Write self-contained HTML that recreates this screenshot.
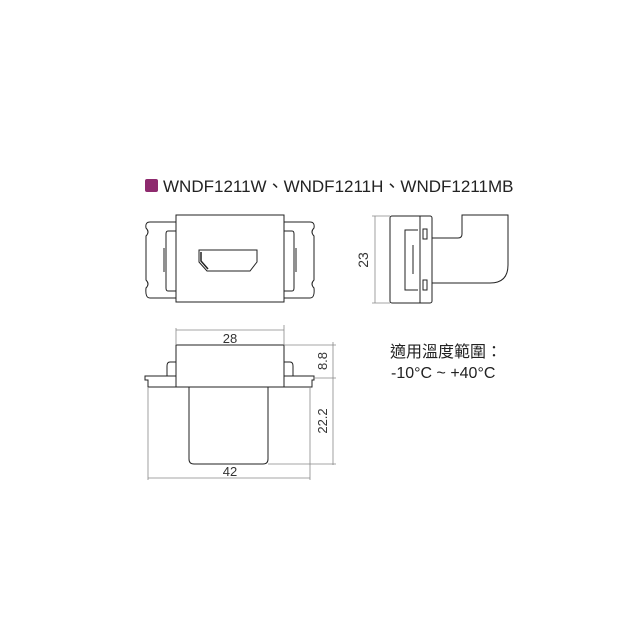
<!DOCTYPE html>
<html><head><style>
html,body{margin:0;padding:0;background:#fff;}
svg{display:block;}
text{font-family:"Liberation Sans","Noto Sans CJK TC",sans-serif;}
</style></head><body>
<svg width="640" height="640" viewBox="0 0 640 640" xmlns="http://www.w3.org/2000/svg">
<rect x="145" y="179" width="13" height="13" rx="2" fill="#8e2a6e"/>
<text x="163" y="192" font-size="17" fill="#222" font-family="'Noto Sans CJK TC',sans-serif">WNDF1211W、WNDF1211H、WNDF1211MB</text>

<g fill="none" stroke="#222" stroke-width="1">
<path d="M176 222 L150 222 Q145 222 146 228 Q150 232 146 236 L146 280 Q150 284 146 288 Q145 298 150 298 L176 298"/>
<path d="M284 222 L310 222 Q315 222 314 228 Q310 232 314 236 L314 280 Q310 284 314 288 Q315 298 310 298 L284 298"/>
<path d="M176 231 L168 231 Q166 231 166 234 L166 288 Q166 291 168 291 L176 291"/>
<path d="M284 231 L292 231 Q294 231 294 234 L294 288 Q294 291 292 291 L284 291"/>
<line x1="164" y1="248" x2="164" y2="272"/>
<line x1="296" y1="248" x2="296" y2="272"/>
<rect x="176" y="215" width="108" height="87" fill="#fff"/>
<path d="M199 250 L257 250 L257 262 L250 271 L207 271 L199 262 Z"/>
<path d="M201 252 L201 261 L208 269" stroke-width="1.5"/>

<rect x="390" y="216" width="42" height="87" rx="2"/>
<path d="M418 230 L405 230 L405 290 L418 290"/>
<line x1="413" y1="245" x2="413" y2="274"/>
<line x1="420" y1="244" x2="420" y2="274"/>
<line x1="420" y1="216" x2="420" y2="303"/>
<rect x="423" y="229" width="4" height="10"/>
<rect x="423" y="280" width="4" height="10"/>
<path d="M432 238 L458 238 Q462 238 462 234 L462 215 L508 215 L508 265 Q508 283 490 283 L432 283"/>
<g stroke="#888" stroke-width="0.8">
<line x1="375" y1="216" x2="375" y2="303"/>
<line x1="372" y1="216" x2="390" y2="216"/>
<line x1="372" y1="303" x2="390" y2="303"/>
</g>

<rect x="176" y="345" width="108" height="42"/>
<path d="M176 362 L170 362 Q167 362 167 366 L167 376"/>
<path d="M284 362 L290 362 Q293 362 293 366 L293 376"/>
<path d="M176 376 L145 376 L145 380 L148 380 L148 387 L312 387 L312 380 L314 380 L314 376 L284 376"/>
<line x1="148" y1="387" x2="148" y2="480" stroke="#888" stroke-width="0.8"/>
<line x1="310" y1="387" x2="310" y2="480" stroke="#888" stroke-width="0.8"/>
<path d="M189 387 L189 459 Q189 464 194 464 L263 464 Q268 464 268 459 L268 387"/>
<g stroke="#888" stroke-width="0.8">
<line x1="176" y1="328" x2="176" y2="345"/>
<line x1="284" y1="325" x2="284" y2="345"/>
<line x1="176" y1="330" x2="284" y2="330"/>
<line x1="148" y1="478" x2="310" y2="478"/>
<line x1="333" y1="342" x2="333" y2="465"/>
<line x1="284" y1="345" x2="336" y2="345"/>
<line x1="314" y1="378" x2="336" y2="378"/>
<line x1="268" y1="464" x2="336" y2="464"/>
</g>
</g>
<text x="368" y="260" font-size="14" fill="#333" text-anchor="middle" transform="rotate(-90 368 260)">23</text>
<text x="230" y="343" font-size="13" fill="#333" text-anchor="middle">28</text>
<text x="230" y="476" font-size="13" fill="#333" text-anchor="middle">42</text>
<text x="327" y="361" font-size="13" fill="#333" text-anchor="middle" transform="rotate(-90 327 361)">8.8</text>
<text x="327" y="421" font-size="13" fill="#333" text-anchor="middle" transform="rotate(-90 327 421)">22.2</text>
<text x="390" y="357" font-size="16" fill="#222" font-family="'Noto Sans CJK TC',sans-serif">適用溫度範圍：</text>
<text x="391" y="378" font-size="16" fill="#222" font-family="'Noto Sans CJK TC',sans-serif">-10°C ~ +40°C</text>
</svg>
</body></html>
